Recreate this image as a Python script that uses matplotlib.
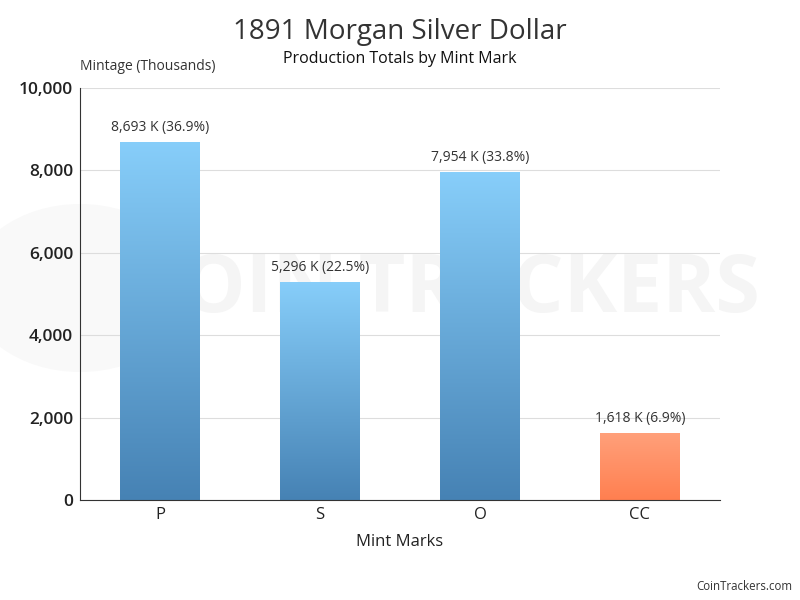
import matplotlib.pyplot as plt
import numpy as np
from matplotlib.colors import LinearSegmentedColormap
from matplotlib.patches import Circle

plt.rcParams['font.family'] = ['Open Sans', 'DejaVu Sans']

# data
mint_marks = ['P', 'S', 'O', 'CC']
mintage = [8693, 5296, 7954, 1618]
bar_top_colors = ['#87cefa', '#87cefa', '#87cefa', '#ffa07a']
bar_bottom_colors = ['#4682b4', '#4682b4', '#4682b4', '#ff7f50']
y_ticks = [0, 2000, 4000, 6000, 8000, 10000]

total = sum(mintage)

fig = plt.figure(figsize=(8, 6), dpi=100)

# faint watermark on a background axes
bg = fig.add_axes([0, 0, 1, 1], zorder=-1)
bg.axis('off')
bg.set_xlim(0, 1)
bg.set_ylim(0, 1)
bg.add_patch(Circle((0.1, 0.52), 0.14, transform=bg.transAxes,
                    facecolor='#f9f9f9', edgecolor='none'))
bg.text(0.165, 0.515, 'COIN TRACKERS', fontsize=58, fontweight='bold',
        color='#f5f5f5', va='center', ha='left')

ax = fig.add_axes([0.1, 1 - 500 / 600, 0.8, 412 / 600])
ax.set_facecolor('none')

x = np.arange(len(mint_marks))
bars = ax.bar(x, mintage, width=0.5, color='none', zorder=2)

for b, top, bot in zip(bars, bar_top_colors, bar_bottom_colors):
    cmap = LinearSegmentedColormap.from_list('g', [bot, top])
    x0, y0 = b.get_x(), b.get_y()
    w, h = b.get_width(), b.get_height()
    grad = np.linspace(0, 1, 256).reshape(-1, 1)
    im = ax.imshow(grad, cmap=cmap, origin='lower', aspect='auto',
                   extent=[x0, x0 + w, y0, y0 + h], zorder=2)
    im.set_clip_path(b)

for xi, v in zip(x, mintage):
    ax.annotate(f'{v:,} K ({v / total * 100:.1f}%)', (xi, v),
                xytext=(0, 5), textcoords='offset points',
                ha='center', va='bottom', fontsize=10, color='#333333')

ax.set_xlim(-0.5, len(mint_marks) - 0.5)
ax.set_ylim(0, 10000)
ax.set_yticks(y_ticks)
ax.set_yticklabels([f'{t:,}' for t in y_ticks], fontsize=12.5,
                   fontweight='semibold', color='#222222')
ax.set_xticks(x)
ax.set_xticklabels(mint_marks, fontsize=12, color='#222222')
ax.tick_params(length=0, pad=5)
ax.grid(axis='y', color='#dddddd', linewidth=0.8, zorder=0)
ax.set_axisbelow(True)

for side in ['top', 'right']:
    ax.spines[side].set_visible(False)
ax.spines['left'].set_color('#333333')
ax.spines['bottom'].set_color('#333333')

ax.set_xlabel('Mint Marks', fontsize=12, color='#222222', labelpad=8)
fig.text(80 / 800, 1 - 67 / 600, 'Mintage (Thousands)', fontsize=10,
         color='#333333', ha='left', va='center')

fig.text(0.5, 1 - 32 / 600, '1891 Morgan Silver Dollar', fontsize=20,
         color='#333333', ha='center', va='center')
fig.text(0.5, 1 - 59 / 600, 'Production Totals by Mint Mark', fontsize=11.5,
         color='#111111', ha='center', va='center', fontweight='medium')
fig.text(792 / 800, 1 - 586 / 600, 'CoinTrackers.com', fontsize=8.3,
         color='#333333', ha='right', va='center')

fig.savefig('out.png', dpi=100)
